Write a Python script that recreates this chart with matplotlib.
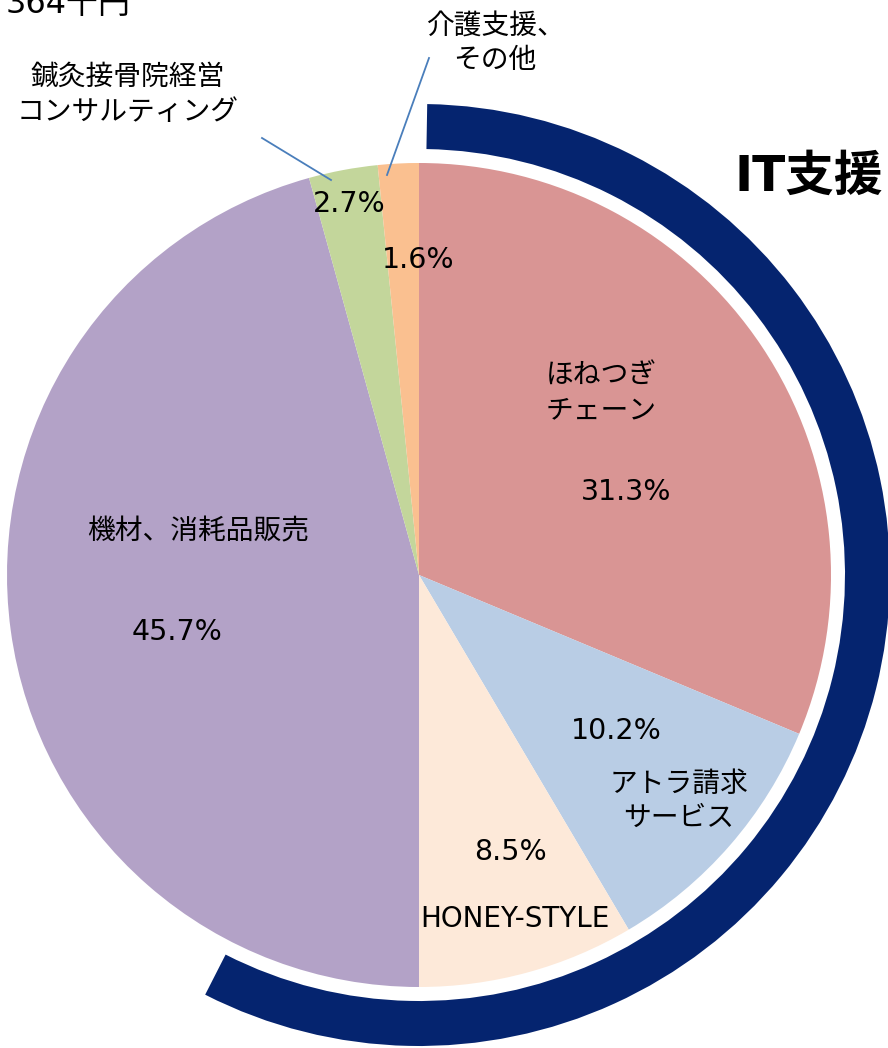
import matplotlib
matplotlib.use("Agg")
import matplotlib.pyplot as plt
from matplotlib.patches import Wedge

# ---- data ----
categories = ["ほねつぎ\nチェーン", "アトラ請求\nサービス", "HONEY-STYLE",
              "機材、消耗品販売", "鍼灸接骨院経営\nコンサルティング", "介護支援、\nその他"]
values = [31.3, 10.2, 8.5, 45.7, 2.7, 1.6]
colors = ["#D99594", "#B9CDE5", "#FDE9D9", "#B3A2C7", "#C3D69B", "#FAC090"]
group_label = "IT支援"
total_label = "364千円"

W, H = 888, 1048
FAM = ["DejaVu Sans", "Noto Sans CJK JP"]
plt.rcParams["font.family"] = FAM

fig = plt.figure(figsize=(W / 100, H / 100), dpi=100)
ax = fig.add_axes([0, 0, 1, 1])

cx, cy_px, R = 419, 575, 412
cy = H - cy_px

ax.pie(values, colors=colors, startangle=90, counterclock=False,
       center=(cx, cy), radius=R, wedgeprops=dict(linewidth=0))

# IT support arc
arc = Wedge((cx, cy), 471, -117, 89, width=45, facecolor="#05246F", edgecolor="none")
ax.add_patch(arc)

def P(x, y):
    return x, H - y

# category labels (pixel positions)
cat_pos = [(601, 393), (679, 801), (515, 919), (198, 531), (128, 95), (495, 43)]
pct_pos = [(626, 492), (616, 731), (510, 852), (177, 632), (349, 204), (418, 260)]

for lab, (x, y) in zip(categories, cat_pos):
    ax.text(*P(x, y), lab, ha="center", va="center", fontsize=20,
            linespacing=1.3, color="black")
for v, (x, y) in zip(values, pct_pos):
    ax.text(*P(x, y), f"{v:.1f}%", ha="center", va="center", fontsize=20.5,
            color="black")

# leader lines
ax.plot([P(262, 138)[0], P(331, 180)[0]], [P(262, 138)[1], P(331, 180)[1]],
        color="#4A7EBB", lw=1.3)
ax.plot([P(429, 58)[0], P(387, 175)[0]], [P(429, 58)[1], P(387, 175)[1]],
        color="#4A7EBB", lw=1.3)

ax.text(*P(809, 177), group_label, ha="center", va="center", fontsize=35,
        fontweight="bold", color="black")
ax.text(*P(131, 13), total_label, ha="right", va="baseline", fontsize=23,
        color="black")

ax.set_xlim(0, W)
ax.set_ylim(0, H)
ax.set_aspect("equal")
ax.axis("off")
fig.savefig("out.png", dpi=100)
